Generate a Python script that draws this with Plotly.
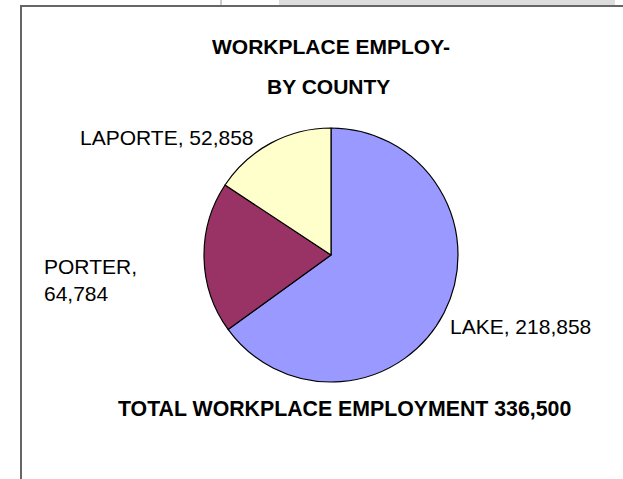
import plotly.graph_objects as go

counties = ["LAKE", "PORTER", "LAPORTE"]
employment = [218858, 64784, 52858]
colors = ["#9999FF", "#993366", "#FFFFCC"]
title_lines = ["WORKPLACE EMPLOY-", "BY COUNTY"]
total_label = "TOTAL WORKPLACE EMPLOYMENT"
total_value = 336500

W, H = 623, 479
FONT = "Arial, Liberation Sans, sans-serif"

def px(x):
    return x / W

def py(y):
    return 1 - y / H

cx, cy, r = 331, 255, 127

fig = go.Figure(go.Pie(
    labels=counties,
    values=employment,
    marker=dict(colors=colors, line=dict(color="#000000", width=1.2)),
    sort=False,
    direction="clockwise",
    rotation=0,
    textinfo="none",
    hoverinfo="label+value",
    showlegend=False,
    domain=dict(x=[px(cx - r), px(cx + r)], y=[py(cy + r), py(cy - r)]),
))

def lab(i, sep=", "):
    return f"{counties[i]}{sep}{employment[i]:,}"

annotations = [
    dict(text=f"<b>{title_lines[0]}</b>", x=px(331), y=py(46), font=dict(size=21)),
    dict(text=f"<b>{title_lines[1]}</b>", x=px(328.5), y=py(86.5), font=dict(size=21)),
    dict(text=lab(2), x=px(78), y=py(138), xanchor="left", font=dict(size=21)),
    dict(text=lab(1, ",<br>"), x=px(42), y=py(280), xanchor="left", align="left", font=dict(size=21)),
    dict(text=lab(0), x=px(448), y=py(326), xanchor="left", font=dict(size=21)),
    dict(text=f"<b>{total_label} {total_value:,}</b>", x=px(344.5), y=py(408.5), font=dict(size=21.3)),
]
for a in annotations:
    a.update(xref="paper", yref="paper", showarrow=False, yanchor="middle")
    a.setdefault("xanchor", "center")
    a["font"].update(family=FONT, color="#000000")

shapes = [
    dict(type="rect", x0=px(279), x1=px(615), y0=py(0), y1=py(5), fillcolor="#DDDDDD", line=dict(width=0)),
    dict(type="line", x0=px(221), x1=px(221), y0=py(0), y1=py(5), line=dict(color="#CCCCCC", width=2)),
    dict(type="line", x0=px(20), x1=px(623), y0=py(6), y1=py(6), line=dict(color="#666666", width=2)),
    dict(type="line", x0=px(21), x1=px(21), y0=py(5), y1=py(479), line=dict(color="#666666", width=2)),
]
for s in shapes:
    s.update(xref="paper", yref="paper", layer="above")

fig.update_layout(
    width=W, height=H,
    margin=dict(l=0, r=0, t=0, b=0),
    paper_bgcolor="#FFFFFF",
    plot_bgcolor="#FFFFFF",
    annotations=annotations,
    shapes=shapes,
    font=dict(family=FONT),
)

fig.write_html(
    "out.html",
    config={"displayModeBar": False},
    post_script="document.body.style.margin='0';document.body.style.overflow='hidden';",
)
